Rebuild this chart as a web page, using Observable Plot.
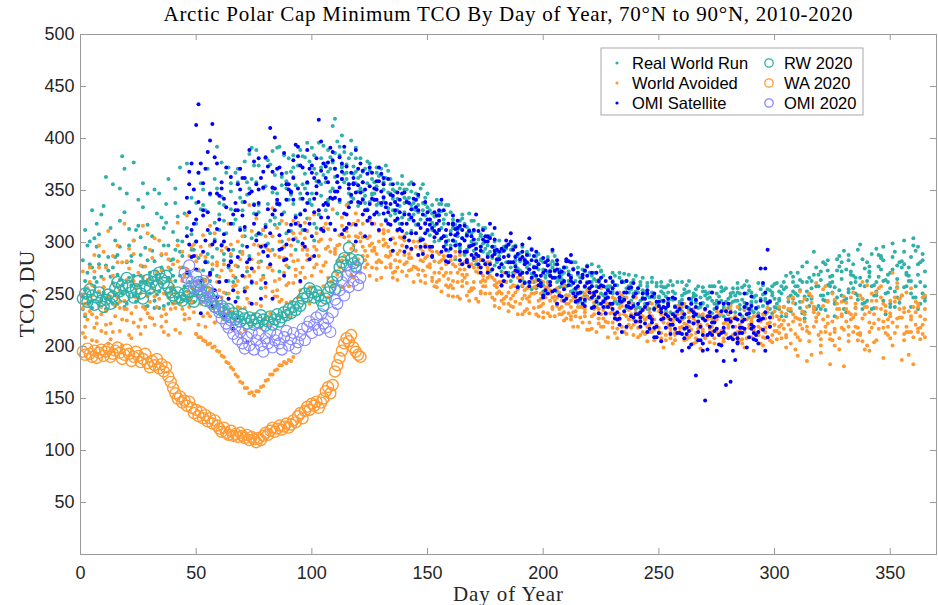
<!DOCTYPE html>
<html><head><meta charset="utf-8">
<script src="https://cdn.jsdelivr.net/npm/d3@7"></script>
<script src="https://cdn.jsdelivr.net/npm/@observablehq/plot@0.6"></script>
<style>html,body{margin:0;padding:0;background:#fff;} #chart{width:938px;height:605px;}</style>
</head><body><div id="chart"></div>
<script>
// ---- tick labels ----
const xTickVals = [0, 50, 100, 150, 200, 250, 300, 350];
const yTickVals = [50, 100, 150, 200, 250, 300, 350, 400, 450, 500];

// ---- Real World Run (2010-2019 samples), tracks sampled every 3 days ----
const rwStarts = [1, 2, 3, 1, 2, 3, 1, 2, 3, 2];
const rwA = [248,301,262,335,244,288,371,259,316,238, 292,347,251,310,268,376,255,332,289,361, 298,372,266,339,385,307,352,278,391,329, 368,301,382,347,396,358,412,339,375,366, 352,378,341,365,333,349,324,356,317,338, 322,341,306,329,298,318,309,287,314,296, 302,281,296,273,289,268,284,262,279,258, 272,253,268,246,263,249,258,241,262,244, 256,238,252,247,234,259,243,238,251,229, 246,236,253,231,244,257,228,249,239,254, 241,262,234,271,248,256,239,279,252,287, 246,268,259,281,237,274,262,291,249,276, 258,283];
const rwB = [312,237,279,246,356,264,241,302,268,347, 244,288,361,263,301,247,318,273,346,392, 336,287,358,312,261,374,296,388,318,352, 337,389,323,371,345,389,371,403,356,381, 368,339,372,351,326,357,338,311,344,326, 336,312,327,302,321,293,311,283,305,278, 291,271,287,264,279,256,274,268,253,271, 259,276,249,268,241,257,253,266,237,251, 244,261,235,253,241,228,249,236,255,242, 233,251,238,227,256,242,235,261,246,232, 253,229,267,243,281,236,264,251,241,272, 283,251,236,267,294,244,271,257,302,238, 269,247];
const rwC = [271,258,327,286,249,383,297,256,334,271, 328,239,274,302,258,343,367,282,255,327, 251,318,291,346,374,282,337,365,301,381, 293,356,378,314,365,349,328,387,344,362, 345,361,327,374,342,318,351,332,304,347, 301,330,292,317,304,328,286,299,272,291, 276,293,258,281,270,289,251,276,264,249, 281,244,262,271,251,239,268,247,258,236, 266,247,240,257,233,262,228,246,258,236, 258,229,243,252,236,263,247,227,241,260, 229,247,258,232,266,276,245,258,284,236, 261,293,242,258,277,231,286,246,269,297, 241];
const rwD = [236,279,318,252,267,241,329,282,247,295, 261,237,319,284,372,246,293,254,371,303, 377,263,322,297,352,389,268,321,347,296, 311,374,352,391,327,376,352,384,367,342, 381,357,347,336,369,328,364,343,331,356, 307,326,318,297,312,289,321,303,280,308, 284,297,267,290,276,262,283,271,287,265, 249,263,274,256,245,268,238,259,270,255, 238,252,262,239,248,253,241,259,233,247, 239,258,244,237,249,229,254,243,259,236, 261,238,249,258,227,246,269,235,262,254, 233,279,266,244,259,285,252,238,282,263, 292,251];
const rwE = [254,244,287,363,276,321,253,377,262,239, 351,276,241,338,287,262,249,351,309,268, 283,357,247,378,304,336,381,352,272,367, 384,328,357,302,381,368,419,372,338,391, 358,376,354,339,361,342,329,349,336,319, 328,302,336,314,296,309,321,296,289,301, 272,288,279,296,261,283,259,268,279,262, 268,242,257,279,262,247,271,246,263,241, 259,249,237,262,252,239,234,253,244,257, 252,240,229,248,261,235,252,238,231,249, 244,268,253,237,262,291,249,273,229,265, 255,237,284,272,249,263,241,278,257,286, 236,272];
const rwF = [297,266,245,273,302,251,266,312,357,251, 269,314,256,247,328,293,273,264,286,338, 309,262,343,272,328,256,299,317,363,276, 355,312,338,366,311,382,397,358,385,349, 338,347,364,322,351,335,309,338,322,311, 316,337,302,284,323,297,279,314,291,283, 296,263,275,284,255,274,266,282,257,276, 254,266,278,239,272,258,244,263,252,268, 247,236,258,243,263,231,251,244,229,253, 244,262,235,256,240,251,233,246,255,238, 251,235,241,262,249,236,281,261,247,292, 269,249,275,236,288,264,299,242,271,247, 281];
const rwG = [283,242,296,257,314,269,238,287,341,262, 306,253,337,268,291,314,243,357,281,319, 344,276,367,331,287,358,312,375,339,384, 346,319,366,336,358,331,377,392,361,373, 364,332,358,371,348,339,356,322,347,331, 331,309,322,311,306,288,301,317,294,285, 287,294,271,282,291,277,263,286,272,269, 263,281,252,271,258,244,266,252,247,261, 252,241,266,248,257,245,239,252,248,238, 251,241,257,246,233,245,258,236,250,244, 237,255,271,249,233,263,258,244,268,277, 274,256,298,263,249,287,269,253,276,268, 247,289];
const rwH = [263,331,252,278,241,296,347,268,288,317, 282,261,297,352,276,269,301,336,263,294, 321,349,277,306,361,329,354,293,336,359, 372,347,311,384,356,341,363,374,381,357, 342,369,336,358,347,331,343,358,329,337, 319,337,298,322,314,306,292,308,297,289, 279,298,283,271,288,264,281,273,262,276, 266,251,272,258,264,238,251,271,256,247, 262,236,247,258,243,251,262,237,249,241, 247,239,254,241,252,238,243,232,251,258, 236,257,246,264,253,238,272,259,244,281, 252,266,241,277,262,283,256,247,291,263, 279,258];
const rwI = [241,304,267,248,286,259,313,243,277,265, 250,297,283,325,249,308,285,331,274,312, 367,293,314,358,337,308,379,324,355,341, 326,383,341,359,393,371,358,366,398,335, 371,346,338,362,331,352,341,327,352,334, 325,314,336,301,327,312,299,291,306,281, 293,276,287,262,294,279,268,291,274,258, 275,262,248,265,273,256,244,262,269,253, 254,242,261,251,246,238,255,241,237,249, 232,248,256,243,251,237,248,255,237,246, 258,243,251,277,239,258,249,267,273,244, 272,245,258,289,267,251,274,281,258,304, 262];
const rwJ = [229,276,308,236,261,352,281,249,305,283, 237,324,266,293,245,271,338,257,297,352, 289,332,371,256,391,281,317,348,392,309, 363,342,396,318,372,338,386,361,347,368, 349,323,367,344,356,322,351,336,318,343, 312,329,306,319,294,315,283,306,288,296, 268,281,297,258,274,287,253,279,266,259, 253,269,243,262,277,249,263,241,252,264, 237,258,249,244,259,232,245,263,242,253, 258,244,236,251,244,259,241,229,244,252, 246,231,262,254,245,269,236,283,257,249, 288,262,246,271,253,296,238,265,279,251, 296,244];

// ---- World Avoided (2010-2019 samples) ----
const waStarts = [1, 2, 3, 1, 2, 3, 1, 2, 3, 2];
const waA = [213,262,228,291,207,247,318,232,271,219, 256,302,224,279,241,326,253,288,232,309, 247,318,226,289,336,261,297,232,314,271, 288,247,319,268,301,281,332,276,311,297, 309,287,318,281,296,272,304,285,276,291, 279,291,268,283,262,274,256,271,251,266, 262,248,259,241,256,237,251,232,248,238, 241,229,247,223,238,219,232,226,214,231, 224,212,229,218,206,226,214,221,203,219, 211,224,202,218,229,207,221,213,231,206, 215,238,203,227,246,192,232,219,251,208, 236,214,249,201,231,258,219,243,187,234, 221,247];
const waB = [241,206,276,234,253,215,264,302,226,248, 221,273,247,216,291,238,212,265,297,243, 279,234,301,254,223,281,306,253,286,318, 261,309,283,327,251,296,272,316,289,328, 296,321,275,303,288,311,279,293,301,268, 287,264,279,256,288,249,276,262,281,245, 251,268,243,259,248,263,228,251,239,255, 226,243,236,251,227,242,218,237,229,211, 231,219,236,208,227,216,232,209,224,214, 204,226,217,235,211,199,227,219,208,228, 226,209,247,221,186,238,214,229,201,243, 219,241,227,196,252,224,208,261,233,214, 238,226];
const waC = [226,288,215,249,239,281,211,257,238,293, 238,214,263,319,226,257,274,219,248,267, 231,268,213,246,272,239,221,263,245,229, 304,276,257,293,314,262,297,305,269,284, 283,299,311,276,304,292,268,301,283,296, 271,283,257,277,269,253,283,258,268,257, 241,257,266,234,251,244,257,238,231,249, 233,251,216,242,231,209,246,219,235,224, 214,233,221,199,217,231,206,223,217,235, 227,212,236,207,221,231,196,224,237,215, 233,221,197,243,213,228,255,207,236,181, 247,206,231,218,256,239,201,228,252,209, 229];
const waD = [272,234,205,257,222,281,244,208,259,236, 285,246,231,258,213,274,233,296,257,223, 292,251,278,306,242,323,266,292,248,296, 243,283,304,257,287,318,259,298,336,266, 271,304,292,266,311,283,297,273,309,282, 293,257,284,271,248,266,279,243,263,274, 237,262,249,271,236,257,246,261,229,244, 249,234,223,254,214,235,241,208,244,218, 209,226,241,214,232,203,227,211,236,198, 221,208,215,232,219,203,236,212,201,223, 207,225,216,191,231,242,211,258,224,197, 224,252,211,238,204,247,226,213,249,192, 243,212];
const waE = [219,249,297,221,268,243,225,289,212,264, 304,229,284,252,236,287,261,243,316,278, 238,298,263,216,311,276,248,333,265,242, 321,262,293,276,312,247,289,324,258,306, 318,268,289,312,279,264,288,309,269,285, 266,281,292,263,274,284,262,251,276,239, 258,234,252,266,243,231,262,244,256,233, 238,256,229,217,248,231,223,252,212,238, 227,205,216,237,222,211,238,219,204,228, 232,217,205,226,238,214,209,229,218,211, 238,199,231,253,219,236,201,244,214,229, 205,231,262,214,237,189,244,227,206,256, 217,236];
const waF = [256,218,238,311,229,201,275,247,316,228, 272,251,236,297,268,243,221,286,238,254, 263,227,284,257,298,218,276,288,229,303, 274,297,241,309,278,303,269,287,317,321, 292,276,301,287,266,305,281,262,294,277, 258,275,249,291,258,279,246,264,281,251, 271,246,231,254,262,229,247,236,252,227, 219,238,247,231,256,223,213,239,226,247, 236,221,209,228,214,239,222,216,231,209, 214,231,224,211,206,226,216,203,222,234, 221,246,212,234,205,261,226,183,241,216, 231,218,197,244,226,213,271,236,219,183, 207];
const waG = [237,276,222,265,248,297,236,262,219,277, 227,262,289,241,276,253,298,241,267,223, 273,246,259,291,268,241,312,277,254,285, 297,318,266,286,331,294,263,307,283,318, 301,279,295,317,286,299,272,289,296,273, 276,262,287,259,271,281,254,276,258,247, 253,262,238,264,246,251,239,257,244,231, 232,245,238,216,243,227,238,217,231,242, 218,226,214,234,211,224,218,207,227,221, 226,203,231,221,213,226,218,229,209,219, 229,217,236,209,224,248,231,214,206,236, 242,228,213,259,222,236,211,247,228,214, 233,221];
const waH = [209,231,253,276,214,237,282,223,251,309, 248,289,211,243,264,227,282,307,229,262, 252,289,238,267,284,297,257,273,301,259, 282,254,311,296,272,313,294,257,301,279, 287,306,264,297,276,289,302,274,288,261, 263,289,271,248,279,261,256,284,266,259, 244,252,271,246,232,258,241,229,247,258, 244,219,233,246,222,251,233,226,247,221, 219,238,226,213,241,206,219,228,213,231, 217,234,208,223,214,236,222,211,227,204, 213,231,224,206,238,219,194,243,217,231, 211,237,246,223,206,241,232,219,237,226, 214,249];
const waI = [246,272,231,203,258,226,294,238,267,243, 264,236,251,282,231,296,248,263,279,235, 295,258,237,276,231,264,293,248,321,261, 268,293,323,279,258,291,282,273,294,305, 276,292,283,299,271,282,295,277,263,287, 282,253,265,286,263,244,272,268,251,261, 246,239,255,249,265,238,255,247,236,241, 247,228,254,236,219,241,228,249,221,233, 229,214,238,223,208,226,241,211,221,208, 219,231,212,227,215,208,229,217,233,221, 208,236,228,217,251,224,239,212,228,248, 226,212,238,251,217,234,223,246,214,238, 218];
const waJ = [231,259,243,213,287,254,236,263,278,232, 253,219,276,237,263,246,287,229,254,281, 226,273,252,237,263,289,227,306,243,278, 309,271,288,247,303,266,291,283,306,292, 305,297,281,309,291,276,306,285,274,298, 291,271,259,279,246,269,287,253,273,264, 262,241,258,231,262,252,233,254,241,225, 229,238,251,229,236,224,247,231,218,226, 211,228,206,231,219,213,226,233,208,216, 229,214,222,239,208,217,224,211,214,229, 219,211,242,226,215,233,207,222,245,218, 233,219,205,233,244,218,229,256,212,229, 241,209];
// one low World Avoided year, daily from day 50
const waLowStart = 50;
const waLowYear = [212,209,209,206,205,202,203,199,200,196, 195,191,190,185,184,180,178,173,171,166, 165,160,160,155,156,153,157,157,161,162, 167,168,173,173,177,178,182,182,185,184, 187,186,190];

// ---- OMI Satellite (2010-2019 samples) ----
const omiStarts = [46, 47, 48, 46, 47, 48, 46, 47, 48, 47];
const omiA = [343,287,376,312,254,358,293,331,268,347, 302,368,279,341,386,317,352,296,374,331, 362,387,341,373,356,338,366,327,349,318, 339,311,327,341,303,322,309,331,294,314, 302,288,311,279,296,284,271,293,263,281, 276,261,283,254,272,259,248,266,252,243, 258,241,226,252,237,231,246,223,239,218, 231,213,238,222,206,229,215,201,226,212, 224,209,237,216,228];
const omiB = [298,413,326,271,347,229,318,286,362,241, 338,261,353,307,284,362,327,389,342,313, 336,371,308,352,389,327,354,341,362,337, 312,348,294,331,318,287,326,301,317,283, 291,312,276,301,289,268,298,277,286,262, 291,247,268,279,244,263,271,239,258,247, 232,256,244,219,261,228,241,209,233,246, 217,241,199,172,211,233,196,218,166,204, 238,221,203,275];
const omiC = [376,433,302,414,262,334,217,351,296,378, 246,332,401,294,356,318,372,284,347,376, 318,364,392,346,371,306,342,359,321,345, 329,296,342,314,322,305,291,318,307,279, 311,294,283,304,269,292,281,257,279,293, 264,281,253,267,246,274,252,261,238,259, 247,231,262,238,224,251,217,243,227,212, 226,208,235,214,148,223,202,163,219,231, 199,213,226,242];
const omiD = [271,318,232,387,301,352,278,243,326,389, 356,291,410,337,268,349,383,312,367,418, 373,342,382,314,357,376,331,352,338,361, 321,347,302,334,289,317,326,296,308,321, 316,297,287,306,274,291,302,268,284,271, 287,268,251,273,261,282,243,269,256,271, 243,266,251,234,257,241,222,248,213,237, 247,224,212,233,219,197,228,213,241,187, 213,232,206,261,219];
const omiE = [356,274,331,398,247,301,363,228,339,275, 381,315,246,372,298,341,263,358,329,397, 358,312,376,334,301,358,372,329,356,303, 348,327,309,288,339,296,312,282,326,298, 281,303,296,286,314,259,287,296,271,304, 268,285,262,241,276,288,258,245,271,232, 251,236,247,263,228,219,254,236,205,229, 238,196,224,245,227,213,237,186,209,226, 251,217,229,196];
const omiF = [312,367,281,239,322,372,254,312,204,336, 296,373,352,327,311,394,342,318,381,336, 391,349,328,367,339,351,318,372,334,292, 341,318,356,302,329,311,341,287,313,304, 296,327,303,318,293,286,309,289,261,283, 279,254,293,271,282,251,262,277,249,266, 238,259,214,242,251,235,229,219,244,226, 213,231,241,206,225,252,211,234,196,218, 241,207,275,293];
const omiG = [306,351,263,329,382,297,246,338,362,284, 327,353,309,371,283,348,392,331,306,359, 338,379,353,327,362,348,321,341,366,329, 331,318,338,309,327,296,318,306,287,309, 291,306,279,301,287,276,296,281,269,288, 271,258,278,266,248,269,256,241,262,253, 238,252,233,245,229,256,238,226,243,231, 221,236,218,229,241,211,223,234,208,227, 218,236,211,227,243];
const omiH = [329,301,357,269,313,342,281,356,315,262, 351,297,368,337,356,303,374,347,362,324, 377,343,361,318,348,369,337,351,328,346, 323,305,332,317,296,314,321,293,302,316, 283,298,271,306,292,279,268,286,291,274, 282,271,259,274,263,281,251,258,247,263, 246,262,227,239,248,224,251,218,236,241, 229,212,246,231,203,219,229,214,233,208, 226,248,214,233];
const omiI = [286,339,371,298,345,263,327,371,281,318, 362,287,331,366,351,324,299,371,354,311, 343,358,312,339,355,331,367,312,338,356, 313,339,321,296,312,329,304,281,297,312, 277,289,312,279,284,263,301,272,283,266, 259,273,266,249,284,261,246,268,252,241, 254,227,243,256,231,246,228,209,238,221, 234,217,202,224,236,211,242,226,207,213, 231,219,244,209];
const omiJ = [368,322,291,347,376,308,282,331,253,349, 309,382,327,293,341,379,316,338,287,369, 324,349,368,356,317,341,324,359,343,317, 336,291,324,346,309,286,331,312,318,291, 307,285,292,271,303,294,281,273,298,258, 276,249,272,283,255,266,244,273,237,257, 263,241,221,252,239,233,214,251,226,239, 246,228,215,238,196,229,217,241,224,203, 217,239,225,252];

// ---- 2020, daily ----
const rw2020Start = 1;
const rw2020 = [246,251,243,255,249,240,247,252,244,238, 245,250,241,248,256,262,253,259,248,266, 258,252,247,255,263,251,246,258,264,256, 262,268,259,271,265,261,268,257,252,249, 246,252,247,244,251,248,253,246,243,258, 262,255,249,244,252,247,241,238,244,236, 239,233,230,236,228,232,226,229,224,231, 227,222,228,225,221,227,223,230,226,220, 224,229,221,226,231,224,228,233,230,236, 232,238,235,242,239,246,251,248,256,252, 247,253,249,244,239,246,252,257,262,255, 268,276,281,285,278,295,284,280,277,283];
const wa2020Start = 1;
const wa2020 = [195,192,198,193,190,196,189,194,197,191, 195,198,190,193,196,199,194,188,192,197, 193,186,190,195,191,185,188,193,184,180, 186,182,188,179,183,176,180,171,166,160, 155,150,152,146,148,143,147,141,136,139, 133,137,131,134,128,131,126,129,124,121, 118,122,117,115,119,114,116,113,117,114, 112,115,110,113,111,108,112,110,114,117, 115,119,122,118,121,124,120,123,126,122, 125,129,127,133,136,131,138,142,139,145, 143,147,141,146,150,157,161,155,163,176, 182,189,196,203,208,205,211,199,195,192,190];
const omi2020Start = 45;
const omi2020 = [271,266,278,262,257,268,259,251,263,247, 255,243,249,238,244,233,227,236,222,218, 225,212,219,207,214,203,198,209,201,213, 197,206,212,201,195,208,203,214,199,206, 211,203,197,209,215,201,207,213,198,204, 211,217,206,219,224,213,221,228,216,231, 222,218,227,214,233,245,241,254,262,249, 268,257,272,263,276,259,266];

// ---- build tables ----
function tracks(starts, lists, step) {
  const rows = [];
  lists.forEach((vals, k) => vals.forEach((v, i) => rows.push({day: starts[k] + step * i, tco: v})));
  return rows;
}
const rwRows = tracks(rwStarts, [rwA, rwB, rwC, rwD, rwE, rwF, rwG, rwH, rwI, rwJ], 3);
const waRows = tracks(waStarts, [waA, waB, waC, waD, waE, waF, waG, waH, waI, waJ], 3).concat(tracks([waLowStart], [waLowYear], 1));
const omiRows = tracks(omiStarts, [omiA, omiB, omiC, omiD, omiE, omiF, omiG, omiH, omiI, omiJ], 3);
const rw20Rows = tracks([rw2020Start], [rw2020], 1);
const wa20Rows = tracks([wa2020Start], [wa2020], 1);
const omi20Rows = tracks([omi2020Start], [omi2020], 1);

const C_RW = "#2fb0a8", C_WA = "#ff9a33", C_OMI = "#0000ff", C_OMI20 = "#8585ff";
const AX = "#9a9a9a";

const W = 938, H = 605, ML = 80, MR = 2, MT = 34, MB = 51;
const innerW = W - ML - MR, innerH = H - MT - MB;

const chart = Plot.plot({
  width: W, height: H,
  marginLeft: ML, marginRight: MR, marginTop: MT, marginBottom: MB,
  style: {fontFamily: "'Liberation Sans', Arial, sans-serif", fontSize: "18px", color: "#262626", background: "#fff"},
  x: {domain: [0, 370], label: null},
  y: {domain: [0, 500], label: null},
  marks: [
    Plot.dot(rwRows, {x: "day", y: "tco", r: 2, fill: C_RW}),
    Plot.dot(waRows, {x: "day", y: "tco", r: 2, fill: C_WA}),
    Plot.dot(omiRows, {x: "day", y: "tco", r: 2, fill: C_OMI}),
    Plot.dot(rw20Rows, {x: "day", y: "tco", r: 5.5, stroke: C_RW, strokeWidth: 1.4, fill: "none"}),
    Plot.dot(wa20Rows, {x: "day", y: "tco", r: 5.5, stroke: C_WA, strokeWidth: 1.4, fill: "none"}),
    Plot.dot(omi20Rows, {x: "day", y: "tco", r: 5.5, stroke: C_OMI20, strokeWidth: 1.1, fill: "none"}),
    Plot.frame({stroke: AX}),
    Plot.tickX(xTickVals, {x: d => d, insetTop: innerH - 6, stroke: AX}),
    Plot.tickX(xTickVals, {x: d => d, insetBottom: innerH - 6, stroke: AX}),
    Plot.tickY(yTickVals, {y: d => d, insetRight: innerW - 6, stroke: AX}),
    Plot.tickY(yTickVals, {y: d => d, insetLeft: innerW - 6, stroke: AX}),
    Plot.axisX({ticks: xTickVals, tickSize: 0, tickPadding: 12, tickFormat: d => String(d), label: null}),
    Plot.axisY({ticks: yTickVals, tickSize: 0, tickPadding: 6, tickFormat: d => String(d), label: null})
  ]
});
document.getElementById("chart").appendChild(chart);

const svg = d3.select(chart);
const serif = "'Liberation Serif', 'Times New Roman', serif";
svg.append("text").attr("x", ML + innerW / 2).attr("y", 21).attr("text-anchor", "middle")
  .attr("font-family", serif).attr("font-size", 21).attr("fill", "#000")
  .attr("textLength", 689).attr("lengthAdjust", "spacing")
  .text("Arctic Polar Cap Minimum TCO By Day of Year, 70°N to 90°N, 2010-2020");
svg.append("text").attr("x", ML + innerW / 2).attr("y", 601).attr("text-anchor", "middle")
  .attr("font-family", serif).attr("font-size", 21).attr("fill", "#262626")
  .attr("textLength", 110).attr("lengthAdjust", "spacing").text("Day of Year");
svg.append("text").attr("transform", `translate(34,${MT + innerH / 2}) rotate(-90)`).attr("text-anchor", "middle")
  .attr("font-family", serif).attr("font-size", 22).attr("fill", "#262626").text("TCO, DU");

// legend
const legendItems = [
  {label: "Real World Run", color: C_RW, open: false, col: 0, row: 0},
  {label: "World Avoided", color: C_WA, open: false, col: 0, row: 1},
  {label: "OMI Satellite", color: C_OMI, open: false, col: 0, row: 2},
  {label: "RW 2020", color: C_RW, open: true, col: 1, row: 0},
  {label: "WA 2020", color: C_WA, open: true, col: 1, row: 1},
  {label: "OMI 2020", color: C_OMI20, open: true, col: 1, row: 2}
];
const lg = svg.append("g").attr("transform", "translate(601,48)");
lg.append("rect").attr("width", 262).attr("height", 67).attr("fill", "#fff").attr("stroke", "#a8a8a8").attr("stroke-width", 1);
const colX = [16, 168], rowY = [15, 35, 55];
legendItems.forEach(it => {
  const cx = colX[it.col], cy = rowY[it.row];
  if (it.open) lg.append("circle").attr("cx", cx).attr("cy", cy).attr("r", 4.2).attr("fill", "none").attr("stroke", it.color).attr("stroke-width", 1.3);
  else lg.append("circle").attr("cx", cx).attr("cy", cy).attr("r", 1.6).attr("fill", it.color);
  lg.append("text").attr("x", cx + 15).attr("y", cy).attr("dy", "0.36em").attr("text-anchor", "start")
    .attr("font-family", "'Liberation Sans', Arial, sans-serif")
    .attr("font-size", 16.5).attr("fill", "#000").text(it.label);
});
</script></body></html>
